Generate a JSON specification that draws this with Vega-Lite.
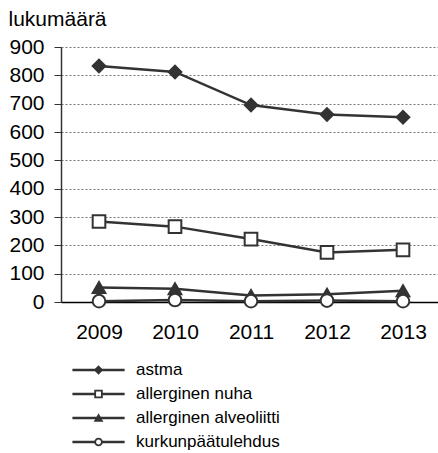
{
  "$schema": "https://vega.github.io/schema/vega-lite/v6.json",
  "autosize": {"type": "pad"},
  "padding": {"left": 8, "top": 8, "right": 0, "bottom": 5},
  "background": "white",
  "config": {
    "view": {"stroke": null},
    "font": "Liberation Sans",
    "axis": {"labelFont": "Liberation Sans", "titleFont": "Liberation Sans", "labelColor": "#000", "titleColor": "#000"}
  },
  "data": {
    "values": [
      {"year": "2009", "series": "astma", "value": 833},
      {"year": "2010", "series": "astma", "value": 812},
      {"year": "2011", "series": "astma", "value": 695},
      {"year": "2012", "series": "astma", "value": 662},
      {"year": "2013", "series": "astma", "value": 652},
      {"year": "2009", "series": "allerginen nuha", "value": 284},
      {"year": "2010", "series": "allerginen nuha", "value": 266},
      {"year": "2011", "series": "allerginen nuha", "value": 222},
      {"year": "2012", "series": "allerginen nuha", "value": 175},
      {"year": "2013", "series": "allerginen nuha", "value": 184},
      {"year": "2009", "series": "allerginen alveoliitti", "value": 51},
      {"year": "2010", "series": "allerginen alveoliitti", "value": 47},
      {"year": "2011", "series": "allerginen alveoliitti", "value": 23},
      {"year": "2012", "series": "allerginen alveoliitti", "value": 27},
      {"year": "2013", "series": "allerginen alveoliitti", "value": 40},
      {"year": "2009", "series": "kurkunpäätulehdus", "value": 3},
      {"year": "2010", "series": "kurkunpäätulehdus", "value": 7},
      {"year": "2011", "series": "kurkunpäätulehdus", "value": 3},
      {"year": "2012", "series": "kurkunpäätulehdus", "value": 5},
      {"year": "2013", "series": "kurkunpäätulehdus", "value": 3}
    ]
  },
  "spacing": 16,
  "vconcat": [
    {
      "width": 380,
      "height": 255,
      "encoding": {
        "x": {
          "field": "year", "type": "ordinal",
          "scale": {"type": "point", "padding": 0.5},
          "axis": {"title": null, "labelAngle": 0, "labelFontSize": 21, "labelPadding": 19, "ticks": false, "domainColor": "#000", "domainWidth": 1.5, "grid": false}
        },
        "y": {
          "field": "value", "type": "quantitative",
          "scale": {"domain": [0, 900], "nice": false},
          "axis": {
            "values": [0, 100, 200, 300, 400, 500, 600, 700, 800, 900],
            "title": "lukumäärä", "titleAngle": 0, "titleAlign": "left", "titleBaseline": "alphabetic",
            "titleX": -53, "titleY": -22, "titleFontSize": 21, "titleFontWeight": "normal",
            "labelFontSize": 21, "labelPadding": 10, "tickSize": 7, "tickColor": "#333", "domainColor": "#333", "domainWidth": 1.5,
            "grid": true, "gridDash": [2, 2], "gridColor": "#777", "gridWidth": 1
          }
        }
      },
      "layer": [
        {
          "mark": {"type": "line", "color": "#333", "strokeWidth": 2.5},
          "encoding": {"detail": {"field": "series"}}
        },
        {
          "mark": {"type": "point", "filled": false, "stroke": "#333", "strokeWidth": 2, "size": 160, "opacity": 1},
          "encoding": {
            "shape": {"field": "series", "type": "nominal", "legend": null,
              "scale": {"domain": ["astma", "allerginen nuha", "allerginen alveoliitti", "kurkunpäätulehdus"], "range": ["diamond", "square", "triangle-up", "circle"]}},
            "fill": {"field": "series", "type": "nominal", "legend": null,
              "scale": {"domain": ["astma", "allerginen nuha", "allerginen alveoliitti", "kurkunpäätulehdus"], "range": ["#333", "#fff", "#333", "#fff"]}}
          }
        }
      ]
    },
    {
      "width": 380,
      "height": 96,
      "transform": [{"filter": "datum.year == '2009'"}],
      "encoding": {
        "y": {"field": "series", "type": "nominal", "axis": null,
          "scale": {"type": "point", "padding": 0.5, "domain": ["astma", "allerginen nuha", "allerginen alveoliitti", "kurkunpäätulehdus"]}}
      },
      "layer": [
        {
          "mark": {"type": "rule", "color": "#333", "strokeWidth": 2.5},
          "encoding": {
            "x": {"datum": 12, "type": "quantitative", "scale": {"domain": [0, 380]}, "axis": null},
            "x2": {"datum": 67}
          }
        },
        {
          "mark": {"type": "point", "stroke": "#333", "strokeWidth": 1.8, "size": 45, "opacity": 1},
          "encoding": {
            "x": {"datum": 39.5, "type": "quantitative"},
            "shape": {"field": "series", "type": "nominal", "legend": null,
              "scale": {"domain": ["astma", "allerginen nuha", "allerginen alveoliitti", "kurkunpäätulehdus"], "range": ["diamond", "square", "triangle-up", "circle"]}},
            "fill": {"field": "series", "type": "nominal", "legend": null,
              "scale": {"domain": ["astma", "allerginen nuha", "allerginen alveoliitti", "kurkunpäätulehdus"], "range": ["#333", "#fff", "#333", "#fff"]}}
          }
        },
        {
          "mark": {"type": "text", "align": "left", "baseline": "middle", "fontSize": 17, "color": "#000", "font": "Liberation Sans"},
          "encoding": {
            "x": {"datum": 79, "type": "quantitative"},
            "text": {"field": "series"}
          }
        }
      ]
    }
  ]
}
